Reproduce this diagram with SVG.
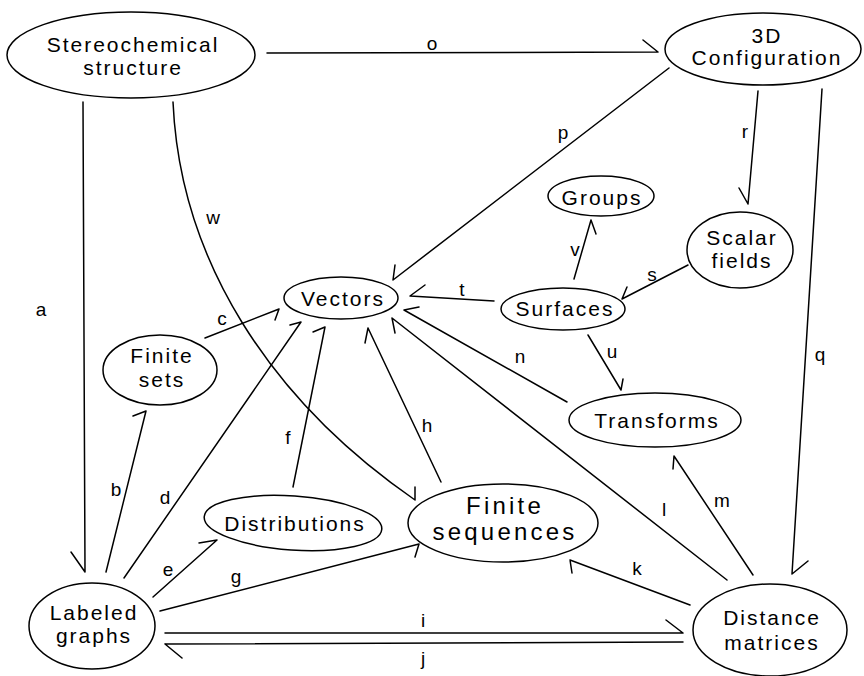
<svg xmlns="http://www.w3.org/2000/svg" width="864" height="676" viewBox="0 0 864 676">
<style>
.n ellipse{fill:#fff;stroke:#000;stroke-width:1.5}
.n text{font-family:"Liberation Sans",Arial,sans-serif;font-size:21px;letter-spacing:2px;text-anchor:middle;fill:#000}
.big text{font-size:24px;letter-spacing:3.2px}
#edges path{fill:none;stroke:#000;stroke-width:1.5;stroke-linecap:round;stroke-linejoin:round}
#labels text{font-family:"Liberation Sans",Arial,sans-serif;font-size:19px;text-anchor:middle;fill:#000}
</style>
<rect width="864" height="676" fill="#fff"/>
<g id="edges">
<path id="e-o" d="M267,53 L658,52 M643,40 L658,52"/>
<path id="e-a" d="M83,102 L85,572 M71,552 L85,572"/>
<path id="e-w" d="M173,102 C180,260 270,400 415,500 M415,487 L415,500"/>
<path id="e-p" d="M669,68 L393,280 M395,265 L393,280"/>
<path id="e-r" d="M758,91 L748,204 M739,188 L748,204"/>
<path id="e-q" d="M822,89 L792,574 M808,561 L792,574"/>
<path id="e-s" d="M688,265 L622,299 M627,287 L622,299"/>
<path id="e-v" d="M574,279 L591,220 M596,234 L591,220"/>
<path id="e-t" d="M494,301 L410,296 M425,285 L410,296"/>
<path id="e-u" d="M588,335 L621,390 M623,379 L621,390"/>
<path id="e-n" d="M567,402 L404,310 M419,307 L404,310"/>
<path id="e-l" d="M727,580 L392,318 M395,333 L392,318"/>
<path id="e-m" d="M753,575 L674,456 M673,469 L674,456"/>
<path id="e-k" d="M690,605 L570,560 M572,573 L570,560"/>
<path id="e-i" d="M165,633 L683,633 M666,620 L683,633"/>
<path id="e-j" d="M683,642 L165,644 M182,658 L165,644"/>
<path id="e-b" d="M106,572 L146,411 M133,416 L146,411"/>
<path id="e-c" d="M205,338 L279,309 M275,320 L279,309"/>
<path id="e-d" d="M124,578 L301,322 M290,325 L301,322"/>
<path id="e-e" d="M153,597 L217,540 M199,543 L217,540"/>
<path id="e-g" d="M160,611 L419,544 M415,557 L419,544"/>
<path id="e-f" d="M293,487 L325,327 M313,332 L325,327"/>
<path id="e-h" d="M441,482 L368,328 M365,343 L368,328"/>
</g>
<g id="labels">
<text x="41" y="316">a</text>
<text x="213" y="224">w</text>
<text x="432" y="50">o</text>
<text x="563" y="139">p</text>
<text x="745" y="138">r</text>
<text x="820" y="361">q</text>
<text x="462" y="296">t</text>
<text x="575" y="256">v</text>
<text x="652" y="281">s</text>
<text x="612" y="358">u</text>
<text x="520" y="363">n</text>
<text x="222" y="325">c</text>
<text x="116" y="496">b</text>
<text x="165" y="504">d</text>
<text x="288" y="444">f</text>
<text x="427" y="432">h</text>
<text x="168" y="576">e</text>
<text x="236" y="583">g</text>
<text x="664" y="516">l</text>
<text x="722" y="507">m</text>
<text x="637" y="575">k</text>
<text x="423" y="627">i</text>
<text x="423" y="665">j</text>
</g>
<g id="stereochemical" class="n">
<ellipse cx="131" cy="55" rx="124" ry="43"/>
<text x="133" y="52">Stereochemical</text>
<text x="133" y="75">structure</text>
</g>
<g id="configuration" class="n">
<ellipse cx="763" cy="49" rx="98" ry="36"/>
<text x="767" y="43">3D</text>
<text x="767" y="65">Configuration</text>
</g>
<g id="groups" class="n">
<ellipse cx="601" cy="196" rx="53" ry="20"/>
<text x="602" y="205">Groups</text>
</g>
<g id="scalar" class="n">
<ellipse cx="740" cy="250" rx="53" ry="38"/>
<text x="742" y="245">Scalar</text>
<text x="742" y="268">fields</text>
</g>
<g id="surfaces" class="n">
<ellipse cx="563" cy="309" rx="62" ry="21"/>
<text x="565" y="316">Surfaces</text>
</g>
<g id="vectors" class="n">
<ellipse cx="341" cy="298" rx="57" ry="21"/>
<text x="343" y="306">Vectors</text>
</g>
<g id="finitesets" class="n">
<ellipse cx="160" cy="370" rx="57" ry="35"/>
<text x="162" y="363">Finite</text>
<text x="162" y="387">sets</text>
</g>
<g id="transforms" class="n">
<ellipse cx="655" cy="420" rx="86" ry="27"/>
<text x="657" y="428">Transforms</text>
</g>
<g id="distributions" class="n">
<ellipse cx="293" cy="523" rx="89" ry="27" transform="rotate(4 293 523)"/>
<text x="295" y="531">Distributions</text>
</g>
<g id="finiteseq" class="n big">
<ellipse cx="503" cy="523" rx="95" ry="39"/>
<text x="505" y="514">Finite</text>
<text x="505" y="540">sequences</text>
</g>
<g id="labeled" class="n">
<ellipse cx="92" cy="626" rx="63" ry="43"/>
<text x="94" y="620">Labeled</text>
<text x="94" y="643">graphs</text>
</g>
<g id="distance" class="n">
<ellipse cx="770" cy="630" rx="77" ry="46"/>
<text x="772" y="625">Distance</text>
<text x="772" y="650">matrices</text>
</g>
</svg>
